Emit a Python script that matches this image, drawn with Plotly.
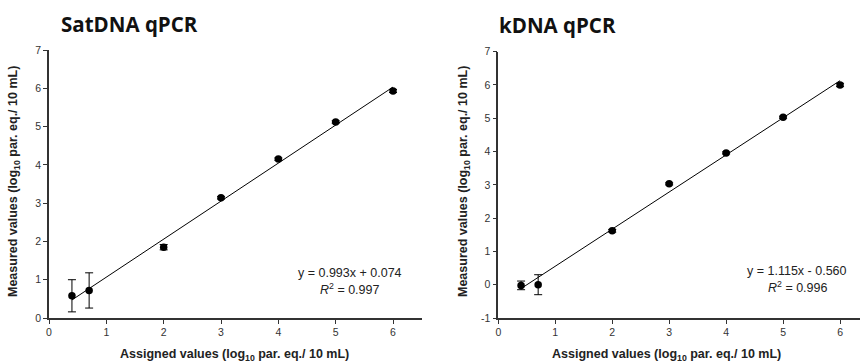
import plotly.graph_objects as go

# --- data ---
assigned = [0.4, 0.7, 2, 3, 4, 5, 6]

sat_measured = [0.58, 0.72, 1.85, 3.14, 4.15, 5.12, 5.93]
sat_err = [0.42, 0.46, 0.07, 0.03, 0.03, 0.03, 0.04]
sat_slope, sat_intercept, sat_r2 = 0.993, 0.074, 0.997

k_measured = [-0.02, 0.0, 1.62, 3.03, 3.96, 5.03, 6.0]
k_err = [0.13, 0.30, 0.04, 0.03, 0.03, 0.03, 0.05]
k_slope, k_intercept, k_r2 = 1.115, -0.560, 0.996

fit_x = [0.4, 6.0]

x_ticks = [0, 1, 2, 3, 4, 5, 6]
sat_y_ticks = [0, 1, 2, 3, 4, 5, 6, 7]
k_y_ticks = [-1, 0, 1, 2, 3, 4, 5, 6, 7]
k_y_ticktext = ["-1", "0", "1", "2", "3", "4", "5", "6", "7"]

W, H = 860, 364

fig = go.Figure()

def add_panel(xa, ya, meas, err, slope, intercept):
    fig.add_trace(go.Scatter(
        x=fit_x, y=[slope * v + intercept for v in fit_x],
        mode="lines", line=dict(color="black", width=1),
        xaxis=xa, yaxis=ya, showlegend=False, hoverinfo="skip"))
    fig.add_trace(go.Scatter(
        x=assigned, y=meas, mode="markers",
        marker=dict(color="black", size=7.5),
        error_y=dict(type="data", array=err, visible=True,
                     color="black", thickness=1, width=4),
        xaxis=xa, yaxis=ya, showlegend=False))

add_panel("x", "y", sat_measured, sat_err, sat_slope, sat_intercept)
add_panel("x2", "y2", k_measured, k_err, k_slope, k_intercept)

axis_common = dict(
    showgrid=False, zeroline=False, showline=True, linecolor="#333",
    linewidth=1.5, ticks="outside", ticklen=4, tickwidth=1.2, tickcolor="#333",
    tickfont=dict(family="Liberation Sans, Arial", size=10.5, color="#333"),
    mirror=False, automargin=False,
)

sat_y_dom = [(H - 318) / H, (H - 50) / H]
k_y_dom = [(H - 318) / H, (H - 51.7) / H]

fig.update_layout(
    width=W, height=H,
    margin=dict(l=0, r=0, t=0, b=0, pad=0, autoexpand=False),
    paper_bgcolor="white", plot_bgcolor="white",
    xaxis=dict(axis_common, domain=[49 / W, 421.7 / W], range=[0, 6.5],
               tickvals=x_ticks, anchor="y"),
    yaxis=dict(axis_common, domain=sat_y_dom, range=[0, 7],
               tickvals=sat_y_ticks, anchor="x"),
    xaxis2=dict(axis_common, domain=[498.3 / W, 1.0], range=[0, 6.35],
                tickvals=x_ticks, anchor="y2"),
    yaxis2=dict(axis_common, domain=k_y_dom, range=[-1, 7],
                tickvals=k_y_ticks, ticktext=k_y_ticktext, anchor="x2"),
)

title_font = dict(family="Open Sans", size=20.5, color="#111")
label_font = dict(family="Liberation Sans, Arial", size=12.5, color="#222")
eq_font = dict(family="Liberation Sans, Arial", size=12.5, color="#222")

ann = []
ann.append(dict(text="<b>SatDNA qPCR</b>", x=59 / W, y=1 - 24 / H, xref="paper", yref="paper",
                xanchor="left", yanchor="middle", showarrow=False, font=title_font))
ann.append(dict(text="<b>kDNA qPCR</b>", x=497 / W, y=1 - 25 / H, xref="paper", yref="paper",
                xanchor="left", yanchor="middle", showarrow=False, font=title_font))

xt = "<b>Assigned values (log<sub>10</sub> par. eq./ 10 mL)</b>"
yt = "<b>Measured values (log<sub>10</sub> par. eq./ 10 mL)</b>"
for cx in [234 / W, 666 / W]:
    ann.append(dict(text=xt, x=cx, y=1 - 355 / H, xref="paper", yref="paper",
                    xanchor="center", yanchor="middle", showarrow=False, font=label_font))
for cx, cy in [(14 / W, 1 - 182 / H), (464 / W, 1 - 182 / H)]:
    ann.append(dict(text=yt, x=cx, y=cy, xref="paper", yref="paper", textangle=-90,
                    xanchor="center", yanchor="middle", showarrow=False, font=label_font))

ann.append(dict(text=f"y = {sat_slope:.3f}x + {sat_intercept:.3f}", x=349.5 / W, y=1 - 272.5 / H,
                xref="paper", yref="paper", xanchor="center", yanchor="middle",
                showarrow=False, font=eq_font))
ann.append(dict(text=f"<i>R</i><sup>2</sup> = {sat_r2:.3f}", x=349 / W, y=1 - 288.5 / H,
                xref="paper", yref="paper", xanchor="center", yanchor="middle",
                showarrow=False, font=eq_font))
ann.append(dict(text=f"y = {k_slope:.3f}x - {abs(k_intercept):.3f}", x=796.5 / W, y=1 - 271.3 / H,
                xref="paper", yref="paper", xanchor="center", yanchor="middle",
                showarrow=False, font=eq_font))
ann.append(dict(text=f"<i>R</i><sup>2</sup> = {k_r2:.3f}", x=797.5 / W, y=1 - 287.3 / H,
                xref="paper", yref="paper", xanchor="center", yanchor="middle",
                showarrow=False, font=eq_font))

fig.update_layout(annotations=ann)
fig.write_html("out.html", config={"displayModeBar": False},
               post_script="document.body.style.margin='0';document.body.style.padding='0';")
